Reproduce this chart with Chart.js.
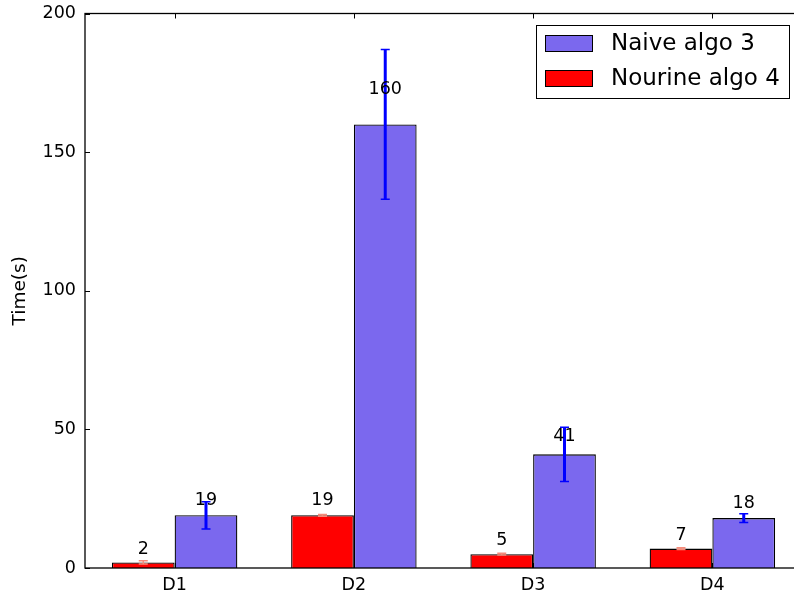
<!DOCTYPE html>
<html><head><meta charset="utf-8">
<script src="https://cdn.jsdelivr.net/npm/chart.js@4.4.1/dist/chart.umd.min.js"></script>
<style>
html,body{margin:0;padding:0;background:#fff;overflow:hidden;width:794px;height:599px;}
#wrap{width:802px;height:599px;position:relative;}
canvas{display:block;}
</style></head><body>
<div id="wrap"><canvas id="c" width="802" height="599"></canvas></div>
<script>
// Timing results per dataset
const categories = ['D1', 'D2', 'D3', 'D4'];
const nourineTimes = [2, 19, 5, 7];
const nourineErrors = [0.6, 0.3, 0.3, 0.3];
const naiveTimes = [19, 160, 41, 18];
const naiveErrors = [4.9, 27, 9.8, 1.6];
const yTicks = [0, 50, 100, 150, 200];

const FONT = 'DejaVu Sans';

// Frame, inward tick marks (all four sides) like a classic matplotlib axes
const framePlugin = {
  id: 'frame',
  afterDraw(chart) {
    const { ctx, chartArea: a, scales: { x, y } } = chart;
    ctx.save();
    ctx.strokeStyle = '#000';
    ctx.lineWidth = 1.3;
    ctx.strokeRect(a.left, a.top, a.right - a.left, a.bottom - a.top);
    ctx.lineWidth = 1;
    ctx.beginPath();
    yTicks.forEach(v => {
      const py = Math.round(y.getPixelForValue(v)) + 0.5;
      ctx.moveTo(a.left, py); ctx.lineTo(a.left + 5, py);
      ctx.moveTo(a.right, py); ctx.lineTo(a.right - 5, py);
    });
    categories.forEach((c, i) => {
      const px = Math.round(x.getPixelForValue(i)) + 0.5;
      ctx.moveTo(px, a.bottom); ctx.lineTo(px, a.bottom - 5);
      ctx.moveTo(px, a.top); ctx.lineTo(px, a.top + 5);
    });
    ctx.stroke();
    ctx.restore();
  }
};

// Error bars and value labels above each bar
const annotatePlugin = {
  id: 'annotate',
  afterDatasetsDraw(chart) {
    const { ctx, scales: { y } } = chart;
    ctx.save();
    chart.data.datasets.forEach((ds, di) => {
      const meta = chart.getDatasetMeta(di);
      meta.data.forEach((bar, i) => {
        const v = ds.data[i];
        const e = ds.errors[i];
        const yTop = y.getPixelForValue(v + e);
        const yBot = y.getPixelForValue(v - e);
        ctx.strokeStyle = ds.errorColor;
        ctx.lineWidth = ds.errorLineWidth;
        ctx.beginPath();
        ctx.moveTo(bar.x, yTop); ctx.lineTo(bar.x, yBot);
        ctx.stroke();
        ctx.lineWidth = 1.5;
        ctx.beginPath();
        ctx.moveTo(bar.x - 4.5, yTop); ctx.lineTo(bar.x + 4.5, yTop);
        ctx.moveTo(bar.x - 4.5, yBot); ctx.lineTo(bar.x + 4.5, yBot);
        ctx.stroke();
      });
    });
    chart.data.datasets.forEach((ds, di) => {
      const meta = chart.getDatasetMeta(di);
      meta.data.forEach((bar, i) => {
        const v = ds.data[i];
        ctx.fillStyle = '#000';
        ctx.font = '17.5px "' + FONT + '"';
        ctx.textAlign = 'center';
        ctx.textBaseline = 'middle';
        ctx.fillText(String(v), bar.x, y.getPixelForValue(1.05 * v) - 12.5);
      });
    });
    ctx.restore();
  }
};

// Boxed legend in the upper right of the plot
const legendPlugin = {
  id: 'boxLegend',
  afterDraw(chart) {
    const { ctx } = chart;
    const order = [1, 0];
    const boxX = 536, boxY = 25, boxW = 253, boxH = 73;
    ctx.save();
    ctx.fillStyle = '#fff';
    ctx.fillRect(boxX, boxY, boxW, boxH);
    ctx.strokeStyle = '#000';
    ctx.lineWidth = 1;
    ctx.strokeRect(boxX + 0.5, boxY + 0.5, boxW, boxH);
    ctx.font = '23px "' + FONT + '"';
    ctx.textAlign = 'left';
    ctx.textBaseline = 'middle';
    order.forEach((di, k) => {
      const ds = chart.data.datasets[di];
      const cy = 43.5 + k * 35;
      ctx.fillStyle = ds.backgroundColor;
      ctx.fillRect(545, cy - 8.5, 48, 17);
      ctx.strokeStyle = '#000';
      ctx.lineWidth = 1;
      ctx.strokeRect(545.5, cy - 8, 47, 16);
      ctx.fillStyle = '#000';
      ctx.fillText(ds.label, 611, cy + 1);
    });
    ctx.restore();
  }
};

new Chart(document.getElementById('c'), {
  type: 'bar',
  data: {
    labels: categories,
    datasets: [
      {
        label: 'Nourine algo 4',
        data: nourineTimes,
        errors: nourineErrors,
        errorColor: '#f58a7a',
        errorLineWidth: 1.5,
        backgroundColor: '#ff0000',
        borderColor: '#000',
        borderWidth: 1.3
      },
      {
        label: 'Naive algo 3',
        data: naiveTimes,
        errors: naiveErrors,
        errorColor: '#0000ff',
        errorLineWidth: 3,
        backgroundColor: '#7b68ee',
        borderColor: '#000',
        borderWidth: 1.3
      }
    ]
  },
  options: {
    responsive: false,
    animation: false,
    devicePixelRatio: 1,
    layout: { padding: { top: 13.5, left: 0, right: 0, bottom: 0 } },
    categoryPercentage: 0.7,
    barPercentage: 1.0,
    plugins: { legend: { display: false }, tooltip: { enabled: false } },
    scales: {
      x: {
        type: 'category',
        offset: true,
        grid: { display: false, drawTicks: false },
        border: { display: false },
        ticks: { color: '#000', font: { family: FONT, size: 17.5 }, padding: 7, maxRotation: 0 },
        afterFit(s) { s.height = 31; s.paddingLeft = 0; s.paddingRight = 0; }
      },
      y: {
        min: 0,
        max: 200,
        grid: { display: false, drawTicks: false },
        border: { display: false },
        afterBuildTicks(s) { s.ticks = yTicks.map(v => ({ value: v })); },
        ticks: { color: '#000', font: { family: FONT, size: 17.5 }, padding: 9 },
        title: { display: true, text: 'Time(s)', color: '#000', font: { family: FONT, size: 18.5 }, padding: { top: 9, bottom: 0 } },
        afterFit(s) { s.width = 85; s.paddingTop = 0; s.paddingBottom = 0; }
      }
    }
  },
  plugins: [framePlugin, annotatePlugin, legendPlugin]
});
</script>
</body></html>
